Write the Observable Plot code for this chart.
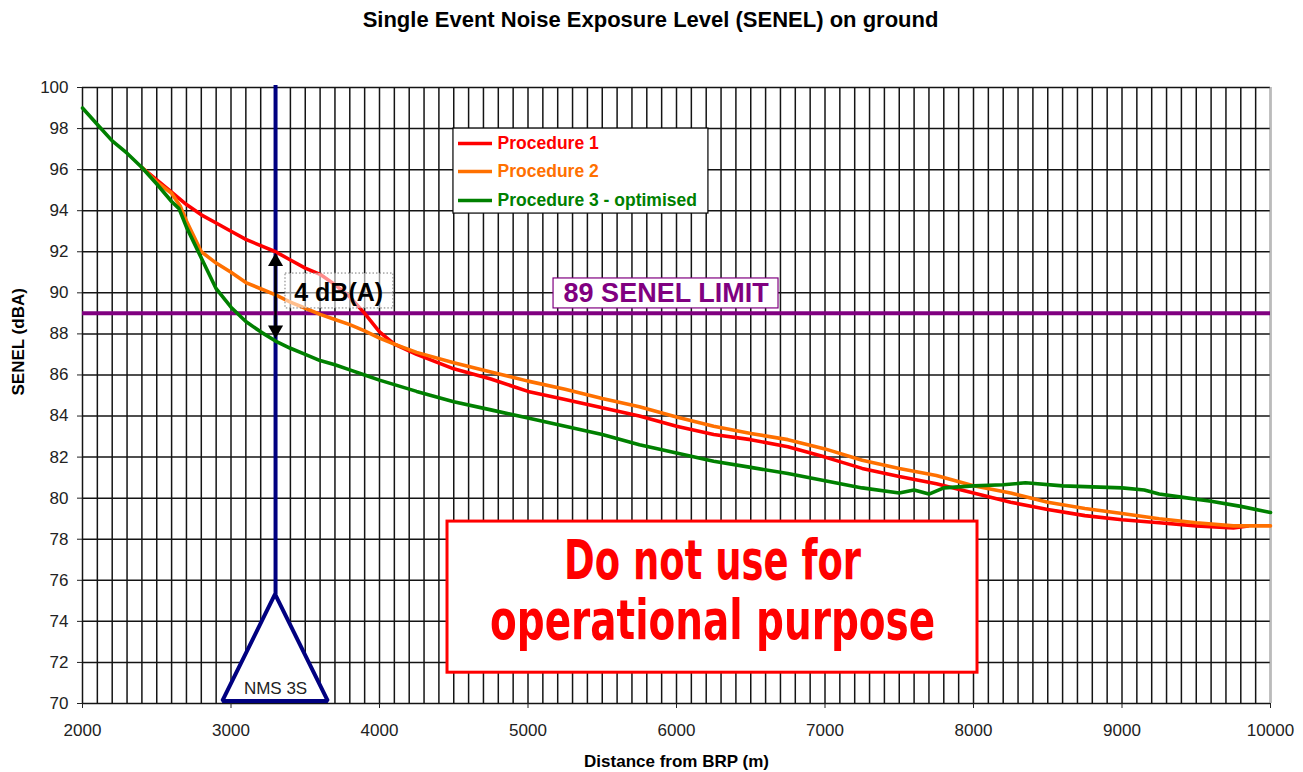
<!DOCTYPE html>
<html><head><meta charset="utf-8">
<script src="https://cdn.jsdelivr.net/npm/d3@7"></script>
<script src="https://cdn.jsdelivr.net/npm/@observablehq/plot@0.6"></script>
<style>
body{margin:0;background:#fff}
#chart svg{display:block}
</style>
</head><body><div id="chart"></div>
<script>
// ---- data ----
const seriesNames = ["Procedure 1", "Procedure 2", "Procedure 3 - optimised"];
const seriesColors = ["#ff0000", "#ff7000", "#008000"];

const distP1 = [2400,2500,2600,2700,2800,2900,3000,3100,3200,3300,3400,3500,3600,3700,3800,3900,4000,4100,4250,4500,4750,5000,5250,5500,5750,6000,6250,6500,6750,7000,7250,7500,7750,8000,8250,8500,8750,9000,9250,9500,9750,9850];
const senelP1 = [96.1,95.5,94.9,94.3,93.8,93.4,93.0,92.6,92.3,92.0,91.6,91.2,90.9,90.4,89.8,89.0,88.1,87.5,87.0,86.3,85.8,85.2,84.8,84.4,84.0,83.5,83.1,82.85,82.5,82.0,81.45,81.05,80.7,80.25,79.8,79.45,79.15,78.95,78.8,78.65,78.55,78.65];

const distP2 = [2400,2500,2600,2660,2700,2800,2900,3000,3100,3200,3300,3400,3500,3600,3700,3800,3900,4000,4100,4250,4500,4750,5000,5250,5500,5750,6000,6250,6500,6750,7000,7250,7500,7750,8000,8250,8500,8750,9000,9250,9500,9750,10000];
const senelP2 = [96.1,95.4,94.85,94.2,93.5,92.0,91.45,91.0,90.5,90.2,89.9,89.55,89.25,88.95,88.7,88.45,88.15,87.8,87.5,87.1,86.6,86.15,85.7,85.3,84.85,84.45,83.95,83.5,83.15,82.85,82.4,81.85,81.45,81.1,80.6,80.25,79.8,79.5,79.25,79.0,78.8,78.65,78.65];

const distP3 = [2000,2100,2200,2300,2400,2500,2600,2650,2700,2800,2900,3000,3100,3200,3300,3400,3500,3600,3700,3800,3900,4000,4250,4500,4750,5000,5250,5500,5750,6000,6250,6500,6750,7000,7250,7500,7600,7700,7800,8000,8200,8350,8600,8800,9000,9150,9250,9400,9600,9800,10000];
const senelP3 = [99.0,98.2,97.4,96.8,96.1,95.3,94.45,94.1,93.2,91.7,90.2,89.3,88.6,88.1,87.65,87.3,87.0,86.7,86.5,86.25,86.0,85.75,85.2,84.7,84.3,83.9,83.5,83.1,82.6,82.2,81.8,81.5,81.2,80.85,80.5,80.25,80.4,80.2,80.5,80.6,80.65,80.75,80.6,80.55,80.5,80.4,80.2,80.05,79.85,79.6,79.3];

const xTicks = [2000,3000,4000,5000,6000,7000,8000,9000,10000];
const yTicks = [70,72,74,76,78,80,82,84,86,88,90,92,94,96,98,100];
const senelLimit = 89;
const nmsDistance = 3300;
const warnLines = ["Do not use for", "operational purpose"];

// ---- build table ----
const table = [];
[[distP1, senelP1], [distP2, senelP2], [distP3, senelP3]].forEach(([ds, vs], i) => {
  ds.forEach((d, j) => table.push({series: seriesNames[i], distance: d, senel: vs[j]}));
});

const gridX = d3.range(2000, 10001, 100);
const gridY = yTicks;

// annotation geometry (data units)
const triangle = [{x: 2945, y: 70.1}, {x: nmsDistance, y: 75.3}, {x: 3655, y: 70.1}];
const legendItems = seriesNames.map((s, i) => ({series: s, y: [97.27, 95.91, 94.5][i]}));
const font = "'Liberation Sans', Arial, Helvetica, sans-serif";
const warnFont = "'Liberation Sans Narrow', 'DejaVu Sans Condensed', sans-serif";

const plot = Plot.plot({
  width: 1303,
  height: 772,
  marginLeft: 82,
  marginRight: 33,
  marginTop: 87,
  marginBottom: 69,
  style: {fontFamily: font, fontSize: "17px", color: "#222", background: "#fff"},
  x: {domain: [2000, 10000]},
  y: {domain: [70, 100]},
  color: {domain: seriesNames, range: seriesColors},
  marks: [
    Plot.ruleX(gridX, {stroke: "#141414", strokeWidth: 1.5}),
    Plot.ruleY(gridY, {stroke: "#141414", strokeWidth: 1.5}),
    Plot.ruleX([10000], {stroke: "#bbb", strokeWidth: 1.6}),
    Plot.axisY({ticks: yTicks, tickSize: 5, tickPadding: 9, label: null, fontSize: 17, tickFormat: d => String(d)}),
    Plot.axisX({ticks: xTicks, tickSize: 5, tickPadding: 15, label: null, fontSize: 17, tickFormat: d => String(d)}),
    // NMS triangle + vertical line
    Plot.areaY(triangle, {x: "x", y1: 70.1, y2: "y", fill: "white", stroke: "#000080", strokeWidth: 4, strokeLinejoin: "miter"}),
    Plot.ruleX([nmsDistance], {y1: 75.3, y2: 100.1, stroke: "#000080", strokeWidth: 4}),
    Plot.text(["NMS 3S"], {x: nmsDistance, y: 70.75, fontSize: 17, fill: "#222"}),
    // limit line
    Plot.ruleY([senelLimit], {stroke: "#800080", strokeWidth: 4}),
    // curves
    Plot.line(table, {x: "distance", y: "senel", z: "series", stroke: "series", strokeWidth: 3.6, strokeLinejoin: "round"}),
    // 4 dB(A) box
    Plot.rect([{x1: 3367, x2: 4094, y1: 89.24, y2: 90.94}], {x1: "x1", x2: "x2", y1: "y1", y2: "y2", fill: "white", fillOpacity: 0.55, stroke: "#777", strokeDasharray: "1.5,2"}),
    Plot.text(["4 dB(A)"], {x: 3725, y: 90.0, fontSize: 25, fontWeight: "bold", fill: "#000"}),
    // double arrow
    Plot.ruleX([nmsDistance], {y1: 88.2, y2: 91.5, stroke: "#000", strokeWidth: 2.5}),
    Plot.dot([{x: nmsDistance, y: 91.52}], {x: "x", y: "y", symbol: "triangle", r: 5.6, fill: "#000"}),
    Plot.dot([{x: nmsDistance, y: 88.2}], {x: "x", y: "y", symbol: "triangle", r: 5.6, fill: "#000", rotate: 180}),
    // SENEL limit label
    Plot.rect([{x1: 5172, x2: 6687, y1: 89.24, y2: 90.7}], {x1: "x1", x2: "x2", y1: "y1", y2: "y2", fill: "white", stroke: "#800080", strokeWidth: 1.2}),
    Plot.text(["89 SENEL LIMIT"], {x: 5930, y: 89.97, fontSize: 27, fontWeight: "bold", fill: "#800080"}),
    // warning box
    Plot.rect([{x1: 4458, x2: 8027, y1: 71.5, y2: 78.86}], {x1: "x1", x2: "x2", y1: "y1", y2: "y2", fill: "white", stroke: "#ff0000", strokeWidth: 3}),
    Plot.text([warnLines[0]], {x: 6243, y: 76.96, fontSize: 56, fontWeight: "bold", fill: "#ff0000", fontFamily: warnFont}),
    Plot.text([warnLines[1]], {x: 6243, y: 73.99, fontSize: 56, fontWeight: "bold", fill: "#ff0000", fontFamily: warnFont}),
    // legend
    Plot.rect([{x1: 4498, x2: 6215, y1: 93.86, y2: 98.0}], {x1: "x1", x2: "x2", y1: "y1", y2: "y2", fill: "white", stroke: "#000", strokeWidth: 1.2}),
    Plot.ruleY(legendItems, {y: "y", x1: 4532, x2: 4761, stroke: "series", strokeWidth: 3.6}),
    Plot.text(legendItems, {x: 4795, y: "y", text: "series", fill: "series", textAnchor: "start", fontSize: 17.5, fontWeight: "bold"}),
    // titles
    Plot.text(["Single Event Noise Exposure Level (SENEL) on ground"], {frameAnchor: "top", dy: -76, dx: -26, fontSize: 22, fontWeight: "bold", fill: "#000"}),
    Plot.text(["SENEL (dBA)"], {frameAnchor: "left", dx: -64, rotate: -90, fontSize: 17, fontWeight: "bold", fill: "#000"}),
    Plot.text(["Distance from BRP (m)"], {frameAnchor: "bottom", dy: 63, fontSize: 17, fontWeight: "bold", fill: "#000"})
  ]
});
// squeeze the warning text horizontally to mimic a condensed display face
const warnWidths = {[warnLines[0]]: 297, [warnLines[1]]: 445};
d3.select(plot).selectAll("text")
  .filter(function() { return warnWidths[this.textContent] !== undefined; })
  .each(function() {
    this.setAttribute("textLength", warnWidths[this.textContent]);
    this.setAttribute("lengthAdjust", "spacingAndGlyphs");
  });
document.getElementById("chart").append(plot);
</script>
</body></html>
